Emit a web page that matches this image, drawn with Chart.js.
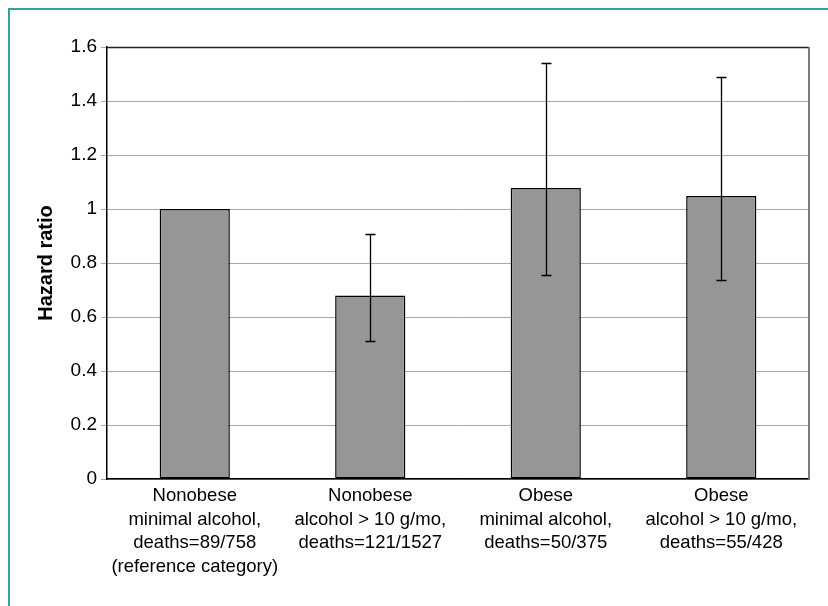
<!DOCTYPE html>
<html>
<head>
<meta charset="utf-8">
<script src="https://cdn.jsdelivr.net/npm/chart.js@4.4.1/dist/chart.umd.min.js"></script>
<style>
  html, body { margin: 0; padding: 0; background: #fff; overflow: hidden; }
  #wrap { position: relative; width: 828px; height: 606px; }
  #frame {
    position: absolute; left: 8px; top: 8px; width: 900px; height: 700px;
    border-top: 2px solid #3a9ea5; border-left: 2px solid #3a9ea5;
  }
  canvas { position: absolute; left: 0; top: 0; }
</style>
</head>
<body>
<div id="wrap">
  <div id="frame"></div>
  <canvas id="hrChart" width="828" height="606"></canvas>
</div>
<script>
const categories = [
    ['Nonobese', 'minimal alcohol,', 'deaths=89/758', '(reference category)'],
    ['Nonobese', 'alcohol > 10 g/mo,', 'deaths=121/1527'],
    ['Obese', 'minimal alcohol,', 'deaths=50/375'],
    ['Obese', 'alcohol > 10 g/mo,', 'deaths=55/428']
];
const hazardRatios = [1.0, 0.68, 1.078, 1.048];
const ciLower = [null, 0.51, 0.756, 0.738];
const ciUpper = [null, 0.907, 1.542, 1.49];
const yTicks = [0, 0.2, 0.4, 0.6, 0.8, 1, 1.2, 1.4, 1.6];

const fontFamily = "'Liberation Sans', Arial, sans-serif";

// error bars drawn on top of the bars using the chart's own scales
const errorBars = {
    id: 'errorBars',
    afterDatasetsDraw(chart) {
        const ctx = chart.ctx;
        const xs = chart.scales.x;
        const ys = chart.scales.y;
        ctx.save();
        ctx.strokeStyle = '#000';
        ctx.lineWidth = 1.3;
        for (let i = 0; i < hazardRatios.length; i++) {
            if (ciLower[i] == null) continue;
            const x = Math.round(xs.getPixelForValue(i)) + 0.5;
            const yLo = Math.round(ys.getPixelForValue(ciLower[i])) + 0.5;
            const yHi = Math.round(ys.getPixelForValue(ciUpper[i])) + 0.5;
            ctx.beginPath();
            ctx.moveTo(x, yLo); ctx.lineTo(x, yHi);
            ctx.moveTo(x - 5, yLo); ctx.lineTo(x + 5, yLo);
            ctx.moveTo(x - 5, yHi); ctx.lineTo(x + 5, yHi);
            ctx.stroke();
        }
        ctx.restore();
    }
};

// top and right edges of the plot area
const plotFrame = {
    id: 'plotFrame',
    beforeDatasetsDraw(chart) {
        const a = chart.chartArea;
        const ctx = chart.ctx;
        ctx.save();
        ctx.strokeStyle = '#222';
        ctx.lineWidth = 1.3;
        ctx.beginPath();
        ctx.moveTo(a.left, Math.round(a.top) + 0.5);
        ctx.lineTo(a.right, Math.round(a.top) + 0.5);
        ctx.stroke();
        ctx.strokeStyle = '#7a7a7a';
        ctx.lineWidth = 2;
        ctx.beginPath();
        ctx.moveTo(Math.round(a.right), a.top);
        ctx.lineTo(Math.round(a.right), a.bottom);
        ctx.stroke();
        ctx.restore();
    }
};

new Chart(document.getElementById('hrChart'), {
    type: 'bar',
    data: {
        labels: categories,
        datasets: [{
            data: hazardRatios,
            backgroundColor: '#969696',
            borderColor: '#000',
            borderWidth: 1.5,
            borderSkipped: false,
            categoryPercentage: 1,
            barPercentage: 0.4
        }]
    },
    options: {
        responsive: false,
        animation: false,
        layout: { padding: { left: 0, right: 19, top: 47, bottom: 0 } },
        plugins: {
            legend: { display: false },
            tooltip: { enabled: false }
        },
        scales: {
            x: {
                grid: { display: false },
                border: { display: true, color: '#000', width: 1.5 },
                ticks: {
                    color: '#000',
                    padding: -3,
                    maxRotation: 0,
                    autoSkip: false,
                    font: { family: fontFamily, size: 18.5, lineHeight: 1.28 }
                },
                afterFit(scale) { scale.height = 127; }
            },
            y: {
                min: 0,
                max: 1.6,
                afterBuildTicks(scale) { scale.ticks = yTicks.map(v => ({ value: v })); },
                grid: { color: '#a8a8a8', lineWidth: 1, tickLength: 6 },
                border: { display: true, color: '#000', width: 1.5 },
                ticks: {
                    color: '#000',
                    padding: 4,
                    font: { family: fontFamily, size: 19 },
                    callback: v => String(v)
                },
                title: {
                    display: true,
                    text: 'Hazard ratio',
                    color: '#000',
                    padding: { top: 34, bottom: 0 },
                    font: { family: fontFamily, size: 20, weight: 'bold' }
                },
                afterFit(scale) { scale.width = 107; }
            }
        }
    },
    plugins: [plotFrame, errorBars]
});
</script>
</body>
</html>
